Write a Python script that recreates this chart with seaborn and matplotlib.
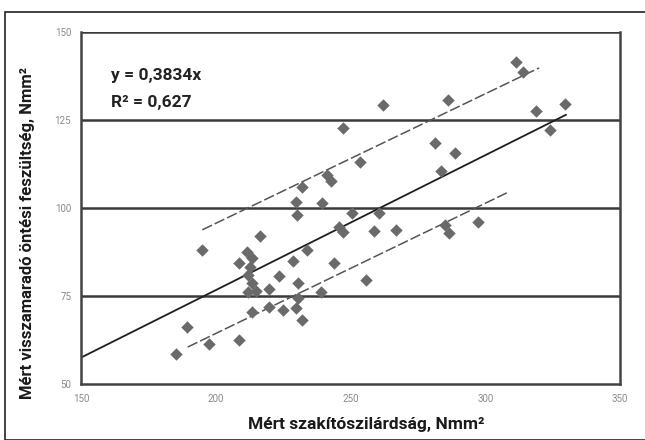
import matplotlib
matplotlib.use("Agg")
import matplotlib.pyplot as plt
import seaborn as sns
import pandas as pd
from matplotlib.patches import Rectangle

# Mért értékek (leolvasva)
szakito = [194.8, 185.2, 189.2, 197.4, 208.5, 216.3, 208.5, 211.5, 213.3, 212.6,
           211.9, 213.3, 211.9, 219.6, 223.3, 228.5, 230.4, 233.7, 213.3, 219.6,
           224.8, 229.6, 231.9, 230.7, 229.6, 230.0, 231.9, 239.6, 241.1, 242.6,
           253.7, 250.7, 260.4, 245.9, 247.4, 258.9, 266.7, 243.7, 255.9, 238.9,
           261.9, 247.4, 311.5, 314.1, 286.3, 318.9, 329.6, 324.1, 281.5, 288.9,
           283.7, 285.2, 286.7, 297.4, 215.0]
feszultseg = [88.1, 58.5, 66.2, 61.4, 62.5, 92.0, 84.4, 87.5, 85.8, 83.2,
              81.0, 78.7, 76.1, 77.0, 80.7, 85.0, 78.7, 88.1, 70.5, 71.9,
              71.0, 71.6, 68.2, 74.4, 101.7, 98.0, 106.0, 101.4, 109.4, 107.7,
              113.1, 98.6, 98.6, 94.6, 93.2, 93.5, 93.8, 84.4, 79.5, 76.1,
              129.3, 122.7, 141.5, 138.6, 130.7, 127.6, 129.5, 122.2, 118.5, 115.6,
              110.5, 95.2, 92.9, 96.0, 76.5]

# trendvonal és sávok végpontjai
trend_x = [150, 330]
trend_y = [57.5, 126.5]
felso_x = [195, 320]
felso_y = [93.8, 139.8]
also_x = [189.6, 308]
also_y = [60.5, 104.3]

xticks = [150, 200, 250, 300, 350]
yticks = [50, 75, 100, 125, 150]

df = pd.DataFrame({"x": szakito, "y": feszultseg})

sns.set_style("white")
plt.rcParams['font.family'] = ['Roboto', 'DejaVu Sans']

fig = plt.figure(figsize=(6.45, 4.4), dpi=100)
ax = fig.add_axes([81 / 645, 1 - 384 / 440, (620 - 81) / 645, (384 - 32) / 440])

# keret a kép körül
fig.patches.append(Rectangle((5 / 645, 0), 1, 1 - 12 / 440, transform=fig.transFigure,
                             fill=False, edgecolor="#222222", linewidth=1.2))

for yv in yticks[1:]:
    ax.axhline(yv, color="#3a3a3a", linewidth=1.8, zorder=1)

sns.lineplot(x=trend_x, y=trend_y, ax=ax, color="#1e1e1e", linewidth=1.3, zorder=2)
sns.lineplot(x=felso_x, y=felso_y, ax=ax, color="#555555", linewidth=1.1,
             linestyle=(0, (7, 2)), zorder=2)
sns.lineplot(x=also_x, y=also_y, ax=ax, color="#555555", linewidth=1.1,
             linestyle=(0, (7, 2)), zorder=2)

sns.scatterplot(data=df, x="x", y="y", ax=ax, marker="D", s=40,
                color="#6a6a6a", edgecolor="#6a6a6a", linewidth=0, zorder=3)

ax.set_xlim(150, 350)
ax.set_ylim(50, 150)
ax.set_xticks(xticks)
ax.set_yticks(yticks)
ax.tick_params(axis="both", direction="out", length=3, width=1.2, colors="#444444",
               labelsize=7, labelcolor="#8a8a8a", pad=4)
for sp in ax.spines.values():
    sp.set_color("#444444")
    sp.set_linewidth(1.8)
ax.spines["top"].set_visible(False)

ax.text(161, 137.5, "y = 0,3834x", fontsize=12.5, fontweight="bold", color="#222222",
        va="center")
ax.text(161, 130.0, "R² = 0,627", fontsize=12.5, fontweight="bold", color="#222222",
        va="center")

ax.set_xlabel("Mért szakítószilárdság, Nmm²", fontsize=12.5, fontweight="bold",
              color="#1a1a1a")
ax.xaxis.set_label_coords(0.53, -0.095)
ax.set_ylabel("Mért visszamaradó öntési feszültség, Nmm²", fontsize=12,
              fontweight="bold", color="#1a1a1a")
ax.yaxis.set_label_coords(-0.085, 0.43)

fig.savefig("out.png", dpi=100)
